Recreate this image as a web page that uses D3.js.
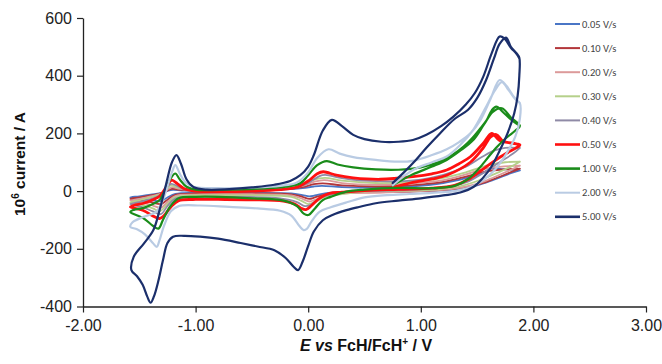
<!DOCTYPE html>
<html><head><meta charset="utf-8">
<script src="https://cdn.jsdelivr.net/npm/d3@7/dist/d3.min.js"></script>
<style>body{margin:0;background:#fff}svg{display:block}</style>
</head><body><svg id="c" width="662" height="364"></svg>
<script>
const xTicks = [-2, -1, 0, 1, 2, 3];
const yTicks = [-400, -200, 0, 200, 400, 600];
const seriesNames = ["0.05 V/s","0.10 V/s","0.20 V/s","0.30 V/s","0.40 V/s","0.50 V/s","1.00 V/s","2.00 V/s","5.00 V/s"];
const seriesColors = ["#4a76c6","#b3363a","#dc9a9a","#b5d08a","#8f8aa6","#ff1010","#1a8c1a","#b9cbe3","#1b2f6b"];

// each scan: [E (V), 10^6 I (A)] in recorded order
const cv005 = [[1.88,72],[1.8,62],[1.65,40],[1.5,20],[1.3,6],[1.0,0],[0.6,-3],[0.3,-4],[0.15,-8],[0.06,-15],[0.01,-18],[-0.05,-14],[-0.15,-8],[-0.5,-6],[-1.0,-6],[-1.18,-10],[-1.25,-22],[-1.31,-35],[-1.38,-32],[-1.48,-26],[-1.58,-22],[-1.5,-18],[-1.4,-12],[-1.3,-6],[-1.24,2],[-1.2,4],[-1.12,2],[-1.0,2],[-0.6,4],[-0.2,6],[-0.05,10],[0.05,16],[0.12,18],[0.3,14],[0.6,12],[0.9,16],[1.2,28],[1.4,45],[1.55,62],[1.62,78],[1.72,76],[1.88,72]];
const cv010 = [[1.88,78],[1.8,66],[1.65,42],[1.5,22],[1.3,8],[1.0,0],[0.6,-4],[0.3,-6],[0.15,-12],[0.06,-22],[0.01,-27],[-0.05,-20],[-0.15,-11],[-0.5,-8],[-1.0,-8],[-1.18,-13],[-1.25,-30],[-1.31,-45],[-1.38,-40],[-1.48,-32],[-1.58,-27],[-1.5,-22],[-1.4,-15],[-1.3,-7],[-1.24,4],[-1.21,8],[-1.13,4],[-1.0,2],[-0.6,5],[-0.2,8],[-0.05,14],[0.05,24],[0.13,27],[0.3,20],[0.6,16],[0.9,20],[1.2,32],[1.4,50],[1.55,66],[1.7,74],[1.88,78]];
const cv020 = [[1.88,88],[1.8,74],[1.65,48],[1.5,25],[1.3,9],[1.0,0],[0.6,-5],[0.3,-8],[0.15,-16],[0.06,-30],[0.01,-36],[-0.05,-27],[-0.15,-15],[-0.5,-11],[-1.0,-12],[-1.18,-17],[-1.25,-38],[-1.31,-58],[-1.38,-50],[-1.48,-40],[-1.58,-33],[-1.5,-27],[-1.4,-18],[-1.3,-8],[-1.24,8],[-1.21,14],[-1.14,8],[-1.0,4],[-0.6,7],[-0.2,11],[-0.05,18],[0.05,32],[0.14,38],[0.3,28],[0.6,22],[0.9,26],[1.2,38],[1.4,58],[1.55,76],[1.7,84],[1.88,88]];
const cv030 = [[1.88,102],[1.8,85],[1.6,50],[1.4,22],[1.2,8],[0.9,2],[0.5,-2],[0.3,-10],[0.15,-20],[0.06,-38],[0.0,-45],[-0.06,-34],[-0.15,-20],[-0.5,-15],[-1.0,-15],[-1.18,-21],[-1.25,-45],[-1.32,-70],[-1.38,-60],[-1.48,-48],[-1.58,-40],[-1.5,-32],[-1.4,-22],[-1.3,-8],[-1.25,10],[-1.22,20],[-1.15,12],[-1.0,5],[-0.6,8],[-0.2,13],[-0.05,22],[0.05,40],[0.15,46],[0.3,36],[0.6,28],[0.9,32],[1.2,46],[1.4,65],[1.6,90],[1.75,100],[1.88,102]];
const cv040 = [[1.88,150],[1.82,130],[1.7,100],[1.55,62],[1.4,30],[1.2,12],[0.9,4],[0.5,0],[0.25,-8],[0.1,-25],[0.02,-48],[-0.03,-52],[-0.1,-38],[-0.25,-25],[-0.6,-20],[-1.0,-20],[-1.18,-26],[-1.25,-52],[-1.31,-80],[-1.38,-70],[-1.48,-55],[-1.58,-45],[-1.5,-38],[-1.4,-28],[-1.32,-14],[-1.27,6],[-1.22,25],[-1.16,17],[-1.1,6],[-1.0,1],[-0.6,3],[-0.3,6],[-0.1,13],[0.0,28],[0.1,52],[0.15,56],[0.3,45],[0.5,36],[0.8,34],[1.0,40],[1.2,56],[1.4,85],[1.55,120],[1.65,140],[1.75,150],[1.88,150]];
const cv050 = [[0.75,12],[0.93,30],[1.1,42],[1.23,55],[1.44,100],[1.555,150],[1.62,188],[1.67,196],[1.73,173],[1.82,165],[1.88,160],[1.84,148],[1.76,131],[1.645,102],[1.53,70],[1.42,40],[1.3,20],[1.1,10],[0.8,6],[0.5,2],[0.3,-4],[0.19,-8],[0.1,-25],[0.03,-50],[-0.02,-64],[-0.06,-60],[-0.12,-45],[-0.22,-35],[-0.5,-30],[-0.8,-29],[-1.0,-29],[-1.15,-33],[-1.22,-55],[-1.28,-85],[-1.32,-95],[-1.38,-86],[-1.46,-68],[-1.58,-55],[-1.55,-50],[-1.46,-42],[-1.38,-30],[-1.32,-18],[-1.27,8],[-1.23,32],[-1.21,38],[-1.16,25],[-1.1,8],[-1.0,0],[-0.8,-2],[-0.5,0],[-0.25,5],[-0.1,14],[0.0,35],[0.08,60],[0.134,67],[0.25,55],[0.4,46],[0.64,41],[0.93,50],[1.1,60],[1.23,73],[1.34,95],[1.44,119],[1.555,166],[1.63,200],[1.70,175],[1.82,166],[1.88,160]];
const cv100 = [[0.75,20],[0.93,58],[1.1,85],[1.23,108],[1.35,140],[1.466,177],[1.56,230],[1.64,275],[1.72,287],[1.80,255],[1.88,226],[1.84,210],[1.76,185],[1.68,155],[1.60,118],[1.52,80],[1.42,42],[1.3,18],[1.1,10],[0.8,11],[0.5,5],[0.34,-2],[0.2,-20],[0.13,-31],[0.06,-60],[0.0,-83],[-0.04,-78],[-0.1,-52],[-0.22,-33],[-0.5,-25],[-0.8,-20],[-1.0,-20],[-1.15,-25],[-1.22,-50],[-1.29,-100],[-1.33,-130],[-1.38,-120],[-1.46,-95],[-1.58,-72],[-1.55,-65],[-1.46,-58],[-1.38,-45],[-1.32,-31],[-1.27,5],[-1.22,45],[-1.18,61],[-1.14,40],[-1.08,15],[-1.0,5],[-0.7,5],[-0.4,9],[-0.2,15],[-0.07,27],[0.0,55],[0.08,90],[0.165,104],[0.26,92],[0.4,82],[0.6,75],[0.8,74],[1.0,82],[1.15,100],[1.28,125],[1.38,154],[1.46,185],[1.53,218],[1.585,246],[1.63,280],[1.67,293],[1.74,270],[1.81,245],[1.88,226]];
const cv200 = [[0.75,20],[0.93,73],[1.1,100],[1.23,120],[1.35,160],[1.47,215],[1.57,285],[1.66,350],[1.72,378],[1.78,350],[1.84,318],[1.88,305],[1.88,250],[1.84,190],[1.76,130],[1.66,75],[1.56,40],[1.45,15],[1.3,0],[1.1,-6],[0.9,-10],[0.7,-14],[0.5,-22],[0.35,-38],[0.2,-56],[0.1,-72],[0.03,-105],[-0.01,-130],[-0.04,-135],[-0.08,-120],[-0.15,-85],[-0.25,-68],[-0.45,-60],[-0.7,-55],[-0.96,-50],[-1.15,-52],[-1.22,-70],[-1.28,-120],[-1.32,-170],[-1.345,-193],[-1.38,-180],[-1.45,-150],[-1.52,-132],[-1.58,-124],[-1.56,-108],[-1.46,-89],[-1.35,-72],[-1.30,-40],[-1.26,3],[-1.21,65],[-1.18,90],[-1.14,60],[-1.09,30],[-1.02,15],[-0.8,10],[-0.5,12],[-0.25,18],[-0.1,30],[0.0,65],[0.08,115],[0.18,145],[0.28,130],[0.4,118],[0.6,108],[0.8,102],[0.93,105],[1.1,125],[1.23,145],[1.34,170],[1.44,200],[1.53,246],[1.62,320],[1.70,385],[1.76,365],[1.82,330],[1.88,305]];
const cv500 = [[0.75,28],[0.85,65],[0.95,105],[1.05,150],[1.17,200],[1.30,250],[1.42,282],[1.50,322],[1.58,385],[1.65,460],[1.70,510],[1.757,532],[1.80,500],[1.85,478],[1.875,462],[1.875,400],[1.86,330],[1.83,270],[1.77,200],[1.70,140],[1.62,80],[1.55,45],[1.47,15],[1.35,-5],[1.2,-15],[1.0,-25],[0.8,-33],[0.6,-42],[0.45,-55],[0.34,-66],[0.22,-82],[0.13,-101],[0.05,-140],[0.0,-190],[-0.05,-245],[-0.09,-274],[-0.13,-262],[-0.2,-232],[-0.3,-205],[-0.45,-192],[-0.6,-180],[-0.8,-165],[-0.96,-158],[-1.1,-155],[-1.2,-158],[-1.25,-180],[-1.29,-240],[-1.33,-310],[-1.37,-365],[-1.40,-387],[-1.43,-365],[-1.47,-325],[-1.52,-295],[-1.57,-274],[-1.55,-228],[-1.46,-182],[-1.375,-135],[-1.32,-66],[-1.26,27],[-1.21,100],[-1.17,125],[-1.13,95],[-1.08,40],[-1.02,14],[-0.9,5],[-0.7,7],[-0.5,13],[-0.3,22],[-0.16,35],[-0.07,55],[0.0,85],[0.05,125],[0.13,210],[0.21,247],[0.3,225],[0.4,195],[0.5,180],[0.65,171],[0.8,171],[0.93,177],[1.05,195],[1.18,225],[1.29,258],[1.40,300],[1.48,340],[1.555,397],[1.63,478],[1.70,536],[1.74,530],[1.80,497],[1.85,476],[1.875,460]];
const seriesData = [cv005, cv010, cv020, cv030, cv040, cv050, cv100, cv200, cv500];
const seriesWidths = [1.8,1.8,1.8,1.8,1.8,2.8,2.2,2.2,2.2];

const svg = d3.select("#c");
const x = d3.scaleLinear().domain([-2, 3]).range([83, 646]);
const y = d3.scaleLinear().domain([-400, 600]).range([306.5, 18]);
const font = "Liberation Sans, Arial, sans-serif";
const hy = s => s.replace("\u2212", "-");

// axes
const xa = svg.append("g").attr("transform", `translate(0,${y(-400)})`)
  .call(d3.axisBottom(x).tickValues(xTicks).tickSize(6).tickSizeOuter(0).tickFormat(d => hy(d3.format(".2f")(d))));
const ya = svg.append("g").attr("transform", `translate(${x(-2)},0)`)
  .call(d3.axisLeft(y).tickValues(yTicks).tickSize(6).tickSizeOuter(0).tickFormat(d => hy(d3.format("d")(d))));
[xa, ya].forEach(g => {
  g.select(".domain").attr("stroke", "#222").attr("stroke-width", 1.3);
  g.selectAll(".tick line").attr("stroke", "#222").attr("stroke-width", 1.2);
  g.selectAll(".tick text").attr("fill", "#222").style("font-family", font).style("font-size", "16px");
});
xa.selectAll(".tick text").attr("dy", "0.95em");
ya.selectAll(".tick text").attr("x", -11);

const line = d3.line().x(d => x(d[0])).y(d => y(d[1])).curve(d3.curveCatmullRom.alpha(0.5));
seriesData.forEach((s, i) => {
  svg.append("path").datum(s).attr("d", line).attr("fill", "none")
    .attr("stroke", seriesColors[i]).attr("stroke-width", seriesWidths[i])
    .attr("stroke-linejoin", "round").attr("stroke-linecap", "round");
});

// legend
const leg = svg.append("g");
seriesNames.forEach((n, i) => {
  const yy = 24 + i * 24.1;
  leg.append("line").attr("x1", 555).attr("x2", 580).attr("y1", yy).attr("y2", yy)
    .attr("stroke", seriesColors[i]).attr("stroke-width", i === 5 || i === 6 || i === 8 ? 2.6 : 2);
  leg.append("text").attr("x", 582).attr("y", yy + 3.5).text(n)
    .attr("fill", "#444").style("font-family", "Carlito, Calibri, 'Open Sans', sans-serif").style("font-size", "10.5px");
});

// titles
const yt = svg.append("text").attr("transform", "translate(25,164) rotate(-90)")
  .attr("text-anchor", "middle").style("font-family", font).style("font-size", "15.5px").style("font-weight", "bold").attr("fill", "#111");
yt.append("tspan").text("10");
yt.append("tspan").text("6").attr("dy", -6).style("font-size", "10px");
yt.append("tspan").text(" current / A").attr("dy", 6);

const xt = svg.append("text").attr("x", 366).attr("y", 351)
  .attr("text-anchor", "middle").style("font-family", font).style("font-size", "16px").style("font-weight", "bold").attr("fill", "#111");
xt.append("tspan").text("E vs").style("font-style", "italic");
xt.append("tspan").text(" FcH/FcH");
xt.append("tspan").text("+").attr("dy", -6).style("font-size", "10px");
xt.append("tspan").text(" / V").attr("dy", 6);
</script></body></html>
